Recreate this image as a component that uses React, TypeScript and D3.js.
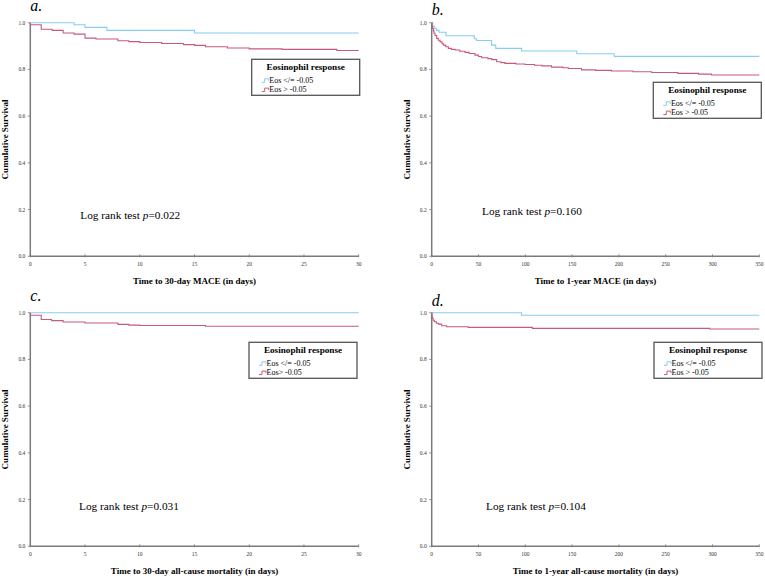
import React from "react";
import * as d3 from "d3";

// Kaplan-Meier step data: event day + survival after it
const aBlueDays = [4, 5, 7, 15];
const aBlueSurv = [0.991, 0.98, 0.967, 0.956];
const aRedDays = [0, 1, 2, 3, 4, 5, 6, 8, 9, 10, 12, 14, 15, 16, 18, 20, 23, 28];
const aRedSurv = [0.991, 0.972, 0.967, 0.956, 0.951, 0.934, 0.93, 0.923, 0.919, 0.915, 0.911, 0.906, 0.903, 0.897, 0.892, 0.888, 0.886, 0.881];

const bBlueDays = [1, 2.8, 5, 7.8, 15.3, 45.6, 48, 64, 68.4, 96, 155, 195];
const bBlueSurv = [0.985, 0.976, 0.967, 0.959, 0.944, 0.931, 0.924, 0.904, 0.89, 0.879, 0.867, 0.856];
const bRedDays = [0.5, 1, 1.8, 2.5, 3.6, 5.3, 7, 8.9, 11, 12.5, 15, 17.8, 21, 24.9, 30, 35.6, 40, 46.3, 50, 53.4, 60, 64.1, 69.4, 74, 78.3, 90, 99.7, 110, 117.5, 128, 140, 146, 160, 175, 192, 215, 235, 263, 285, 299];
const bRedSurv = [0.985, 0.975, 0.965, 0.955, 0.945, 0.933, 0.925, 0.918, 0.91, 0.904, 0.897, 0.89, 0.886, 0.883, 0.878, 0.873, 0.868, 0.861, 0.855, 0.85, 0.846, 0.842, 0.833, 0.829, 0.826, 0.823, 0.821, 0.818, 0.815, 0.81, 0.807, 0.804, 0.798, 0.796, 0.793, 0.79, 0.787, 0.783, 0.78, 0.776];

const cBlueDays: number[] = [];
const cBlueSurv: number[] = [];
const cRedDays = [0, 1, 1.95, 3, 5, 8, 9, 10, 16];
const cRedSurv = [0.989, 0.971, 0.966, 0.96, 0.956, 0.95, 0.947, 0.945, 0.942];

const dBlueDays = [96];
const dBlueSurv = [0.989];
const dRedDays = [0.3, 0.7, 1.5, 2.8, 5, 7.1, 10.7, 16, 39, 107.5, 297];
const dRedSurv = [0.985, 0.976, 0.968, 0.961, 0.955, 0.951, 0.944, 0.94, 0.937, 0.933, 0.93];

const yTicks = [0, 0.2, 0.4, 0.6, 0.8, 1.0];
const ticks30 = [0, 5, 10, 15, 20, 25, 30];
const ticks350 = [0, 50, 100, 150, 200, 250, 300, 350];

const panelLetters = ["a.", "b.", "c.", "d."];
const xTitles = [
  "Time to 30-day MACE (in days)",
  "Time to 1-year MACE (in days)",
  "Time to 30-day all-cause mortality (in days)",
  "Time to 1-year all-cause mortality (in days)",
];
const pValues = ["0.022", "0.160", "0.031", "0.104"];
const legendTitle = "Eosinophil response";
const blueLabels = ["Eos </= -0.05", "Eos </= -0.05", "Eos </= -0.05", "Eos </= -0.05"];
const redLabels = ["Eos > -0.05", "Eos > -0.05", "Eos> -0.05", "Eos > -0.05"];

const BLUE = "#86cdf3";
const RED = "#c65a7e";
const AXIS = "#7a7a7a";
const FONT = "'Liberation Serif', 'Times New Roman', serif";

interface PanelSpec {
  left: number;
  right: number;
  top: number;
  bottom: number;
  xMax: number;
  xTicks: number[];
  blue: [number[], number[]];
  red: [number[], number[]];
  letterY: number;
  legend: { x: number; y: number };
  logX: number;
  logY: number;
  yTitleX: number;
}

const panels: PanelSpec[] = [
  { left: 30.3, right: 358.7, top: 22.7, bottom: 256.3, xMax: 30, xTicks: ticks30, blue: [aBlueDays, aBlueSurv], red: [aRedDays, aRedSurv], letterY: 11, legend: { x: 251.7, y: 59.3 }, logX: 80.3, logY: 218.5, yTitleX: 7.5 },
  { left: 431.7, right: 759.3, top: 22.7, bottom: 256.3, xMax: 350, xTicks: ticks350, blue: [bBlueDays, bBlueSurv], red: [bRedDays, bRedSurv], letterY: 15, legend: { x: 653.3, y: 82.3 }, logX: 482, logY: 214.5, yTitleX: 410 },
  { left: 30.3, right: 358.7, top: 312.7, bottom: 546.3, xMax: 30, xTicks: ticks30, blue: [cBlueDays, cBlueSurv], red: [cRedDays, cRedSurv], letterY: 301, legend: { x: 249, y: 342.3 }, logX: 79, logY: 510, yTitleX: 7.5 },
  { left: 431.7, right: 759.3, top: 312.7, bottom: 546.3, xMax: 350, xTicks: ticks350, blue: [dBlueDays, dBlueSurv], red: [dRedDays, dRedSurv], letterY: 305.5, legend: { x: 654, y: 342.3 }, logX: 486, logY: 509.5, yTitleX: 410 },
];

const kmPoints = (days: number[], surv: number[], xMax: number): [number, number][] => {
  const pts: [number, number][] = [[0, 1]];
  days.forEach((d, i) => pts.push([d, surv[i]]));
  pts.push([xMax, surv.length ? surv[surv.length - 1] : 1]);
  return pts;
};

const Panel: React.FC<{ p: PanelSpec; i: number }> = ({ p, i }) => {
  const x = d3.scaleLinear().domain([0, p.xMax]).range([p.left, p.right]);
  const y = d3.scaleLinear().domain([0, 1]).range([p.bottom, p.top]);
  const line = d3
    .line<[number, number]>()
    .x((d) => x(d[0]))
    .y((d) => y(d[1]))
    .curve(d3.curveStepAfter);
  const lw = 108;
  const lh = 36;
  const lx = p.legend.x;
  const ly = p.legend.y;
  const icon = (ix: number, iy: number) => `M${ix},${iy + 1.5} h3 v-3.5 h4 v2`;

  return (
    <g>
      <text x={p.left} y={p.letterY} fontFamily={FONT} fontStyle="italic" fontSize={16}>
        {panelLetters[i]}
      </text>
      {/* axes */}
      <line x1={p.left} x2={p.left} y1={y(0)} y2={y(1)} stroke={AXIS} strokeWidth={1.5} />
      <line x1={p.left} x2={p.right} y1={y(0)} y2={y(0)} stroke={AXIS} strokeWidth={1.5} />
      {yTicks.map((t) => (
        <g key={"y" + t}>
          <line x1={p.left - 2.5} x2={p.left} y1={y(t)} y2={y(t)} stroke={AXIS} strokeWidth={0.8} />
          <text x={p.left - 5} y={y(t) + 2} textAnchor="end" fontFamily={FONT} fontSize={5.5} fill="#333">
            {t.toFixed(1)}
          </text>
        </g>
      ))}
      {p.xTicks.map((t) => (
        <g key={"x" + t}>
          <line x1={x(t)} x2={x(t)} y1={y(0) - 2} y2={y(0) + 1} stroke={AXIS} strokeWidth={0.8} />
          <text x={x(t)} y={y(0) + 10} textAnchor="middle" fontFamily={FONT} fontSize={5.5} fill="#333">
            {t}
          </text>
        </g>
      ))}
      <text
        transform={`translate(${p.yTitleX},${(p.top + p.bottom) / 2}) rotate(-90)`}
        textAnchor="middle"
        fontFamily={FONT}
        fontWeight="bold"
        fontSize={9}
      >
        Cumulative Survival
      </text>
      <text
        x={(p.left + p.right) / 2}
        y={p.bottom + 27.3}
        textAnchor="middle"
        fontFamily={FONT}
        fontWeight="bold"
        fontSize={9}
      >
        {xTitles[i]}
      </text>
      {/* curves */}
      <path d={line(kmPoints(p.blue[0], p.blue[1], p.xMax)) || ""} fill="none" stroke={BLUE} strokeWidth={1.1} />
      <path d={line(kmPoints(p.red[0], p.red[1], p.xMax)) || ""} fill="none" stroke={RED} strokeWidth={1.1} />
      {/* legend */}
      <rect x={lx} y={ly} width={lw} height={lh} fill="#fff" stroke="#555" strokeWidth={1.3} />
      <text x={lx + lw / 2} y={ly + 10.5} textAnchor="middle" fontFamily={FONT} fontWeight="bold" fontSize={9.2}>
        {legendTitle}
      </text>
      <path d={icon(lx + 10, ly + 21.5)} fill="none" stroke={BLUE} strokeWidth={1} />
      <text x={lx + 17.6} y={ly + 23.7} fontFamily={FONT} fontSize={8}>
        {blueLabels[i]}
      </text>
      <path d={icon(lx + 10, ly + 30.8)} fill="none" stroke={RED} strokeWidth={1} />
      <text x={lx + 17.6} y={ly + 33} fontFamily={FONT} fontSize={8}>
        {redLabels[i]}
      </text>
      {/* log rank */}
      <text x={p.logX} y={p.logY} fontFamily={FONT} fontSize={11.3}>
        Log rank test <tspan fontStyle="italic">p</tspan>={pValues[i]}
      </text>
    </g>
  );
};

const App: React.FC = () => {
  return (
    <svg
      width={765}
      height={578}
      style={{ position: "absolute", left: 0, top: 0, background: "#fff" }}
    >
      {panels.map((p, i) => (
        <Panel key={i} p={p} i={i} />
      ))}
    </svg>
  );
};

export default App;
